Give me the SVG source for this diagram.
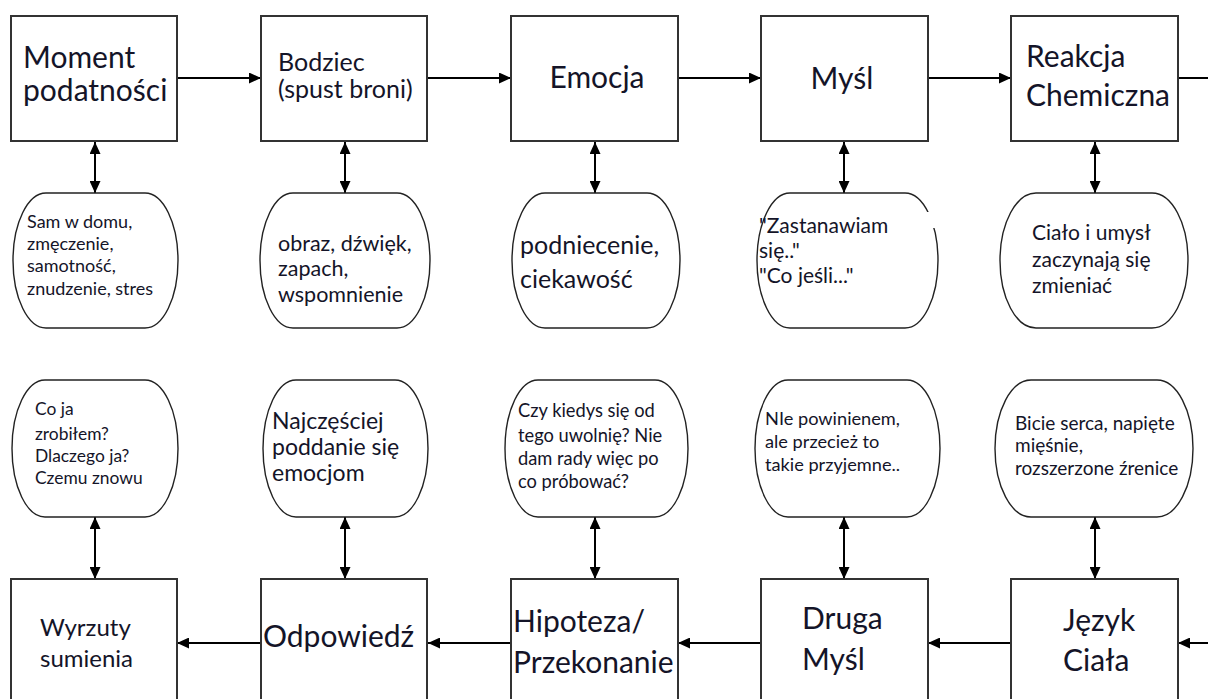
<svg xmlns="http://www.w3.org/2000/svg" width="1208" height="699" viewBox="0 0 1208 699">
<defs>
<marker id="ah" viewBox="0 0 12 11" refX="12" refY="5.5" markerWidth="12" markerHeight="11" markerUnits="userSpaceOnUse" orient="auto-start-reverse">
<path d="M0,0 L12,5.5 L0,11 Z" fill="#000"/>
</marker>
</defs>
<style>
.box{fill:#fff;stroke:#333;stroke-width:2}
.ov{fill:#fff;stroke:#222;stroke-width:1.4}
.c{stroke:#000;stroke-width:2;fill:none}
.a1{marker-end:url(#ah)}
.a2{marker-start:url(#ah);marker-end:url(#ah)}
text{font-family:Lato,"Open Sans","Liberation Sans",sans-serif;fill:#141428}
.t30{font-size:30px}
.t25{font-size:25px}
.t24{font-size:24px}
</style>
<rect width="1208" height="699" fill="#fff"/>
<g id="connectors">
<line class="c a1" x1="177" y1="78" x2="261" y2="78"/>
<line class="c a1" x1="427" y1="78" x2="511" y2="78"/>
<line class="c a1" x1="678" y1="78" x2="761" y2="78"/>
<line class="c a1" x1="928" y1="78" x2="1011" y2="78"/>
<line class="c" x1="1178" y1="78" x2="1208" y2="78"/>
<line class="c a2" x1="95" y1="142" x2="95" y2="193"/>
<line class="c a2" x1="345" y1="142" x2="345" y2="193"/>
<line class="c a2" x1="595" y1="142" x2="595" y2="193"/>
<line class="c a2" x1="844" y1="142" x2="844" y2="193"/>
<line class="c a2" x1="1095" y1="142" x2="1095" y2="193"/>
<line class="c a2" x1="95" y1="517" x2="95" y2="579"/>
<line class="c a2" x1="345" y1="517" x2="345" y2="579"/>
<line class="c a2" x1="595" y1="517" x2="595" y2="579"/>
<line class="c a2" x1="844" y1="517" x2="844" y2="579"/>
<line class="c a2" x1="1095" y1="517" x2="1095" y2="579"/>
<line class="c a1" x1="261" y1="643" x2="177" y2="643"/>
<line class="c a1" x1="511" y1="643" x2="428" y2="643"/>
<line class="c a1" x1="761" y1="643" x2="678" y2="643"/>
<line class="c a1" x1="1011" y1="643" x2="928" y2="643"/>
<line class="c a1" x1="1208" y1="643" x2="1178" y2="643"/>
</g>
<g id="n-moment"><rect class="box" x="11" y="16" width="166" height="125"/>
<text class="t30" x="23" y="68">Moment</text><text class="t30" x="23" y="101">podatności</text></g>
<g id="n-bodziec"><rect class="box" x="261" y="16" width="166" height="125"/>
<text class="t25" x="278" y="71">Bodziec</text><text class="t25" x="278" y="98">(spust broni)</text></g>
<g id="n-emocja"><rect class="box" x="511" y="16" width="167" height="125"/>
<text class="t30" x="597" y="88" text-anchor="middle">Emocja</text></g>
<g id="n-mysl"><rect class="box" x="761" y="16" width="167" height="125"/>
<text class="t30" x="842" y="89" text-anchor="middle">Myśl</text></g>
<g id="n-reakcja"><rect class="box" x="1011" y="16" width="167" height="125"/>
<text class="t30" x="1026" y="67">Reakcja</text><text class="t30" x="1026" y="106">Chemiczna</text></g>

<g id="o-t1"><rect class="ov" x="13" y="193" width="165" height="135" rx="33" ry="67.5"/>
<text font-size="18" x="27" y="228">Sam w domu,</text><text font-size="18" x="27" y="250">zmęczenie,</text><text font-size="18" x="27" y="272">samotność,</text><text font-size="18" x="27" y="295">znudzenie, stres</text></g>
<g id="o-t2"><rect class="ov" x="260" y="193" width="170" height="135" rx="33" ry="67.5"/>
<text font-size="21.5" x="278" y="251">obraz, dźwięk,</text><text font-size="21.5" x="278" y="276">zapach,</text><text font-size="21.5" x="278" y="302">wspomnienie</text></g>
<g id="o-t3"><rect class="ov" x="512" y="193" width="168" height="135" rx="33" ry="67.5"/>
<text font-size="25" x="520" y="254">podniecenie,</text><text font-size="25" x="520" y="288">ciekawość</text></g>
<g id="o-t4"><rect class="ov" x="757" y="193" width="181" height="135" rx="33" ry="67.5"/>
<rect x="923" y="212" width="12" height="16" fill="#fff"/>
<text font-size="21" x="759" y="233">"Zastanawiam</text><text font-size="21" x="759" y="258">się.."</text><text font-size="21" x="759" y="283">"Co jeśli..."</text></g>
<g id="o-t5"><rect class="ov" x="1000" y="193" width="188" height="135" rx="36" ry="67.5"/>
<text font-size="21" x="1032" y="240">Ciało i umysł</text><text font-size="21" x="1032" y="267">zaczynają się</text><text font-size="21" x="1032" y="293">zmieniać</text></g>

<g id="o-b1"><rect class="ov" x="12" y="380" width="166" height="137" rx="33" ry="68.5"/>
<text font-size="17.4" x="35" y="415">Co ja</text><text font-size="17.4" x="35" y="440">zrobiłem?</text><text font-size="17.4" x="35" y="462">Dlaczego ja?</text><text font-size="17.4" x="35" y="484">Czemu znowu</text></g>
<g id="o-b2"><rect class="ov" x="263" y="380" width="165" height="137" rx="33" ry="68.5"/>
<text font-size="23" x="272" y="429">Najczęściej</text><text font-size="23" x="272" y="455">poddanie się</text><text font-size="23" x="272" y="481">emocjom</text></g>
<g id="o-b3"><rect class="ov" x="505" y="380" width="183" height="137" rx="33" ry="68.5"/>
<text font-size="18.3" x="518" y="417">Czy kiedys się od</text><text font-size="18.3" x="518" y="442">tego uwolnię? Nie</text><text font-size="18.3" x="518" y="465">dam rady więc po</text><text font-size="18.3" x="518" y="488">co próbować?</text></g>
<g id="o-b4"><rect class="ov" x="755" y="380" width="185" height="137" rx="33" ry="68.5"/>
<text font-size="18.2" x="765" y="425">NIe powinienem,</text><text font-size="18.2" x="765" y="448">ale przecież to</text><text font-size="18.2" x="765" y="471">takie przyjemne..</text></g>
<g id="o-b5"><rect class="ov" x="995" y="380" width="198" height="137" rx="36" ry="68.5"/>
<text font-size="19" x="1015" y="430">Bicie serca, napięte</text><text font-size="19" x="1015" y="452">mięśnie,</text><text font-size="19" x="1015" y="475">rozszerzone źrenice</text></g>

<g id="n-wyrzuty"><rect class="box" x="11" y="579" width="166" height="130"/>
<text class="t24" x="40" y="636">Wyrzuty</text><text class="t24" x="40" y="667">sumienia</text></g>
<g id="n-odpowiedz"><rect class="box" x="261" y="579" width="166" height="130"/>
<text class="t30" x="263" y="647">Odpowiedź</text></g>
<g id="n-hipoteza"><rect class="box" x="511" y="579" width="167" height="130"/>
<text class="t30" x="513" y="632">Hipoteza/</text><text class="t30" x="513" y="673">Przekonanie</text></g>
<g id="n-druga"><rect class="box" x="761" y="579" width="167" height="130"/>
<text class="t30" x="802" y="629">Druga</text><text class="t30" x="802" y="670">Myśl</text></g>
<g id="n-jezyk"><rect class="box" x="1011" y="579" width="167" height="130"/>
<text class="t30" x="1063" y="631">Język</text><text class="t30" x="1063" y="671">Ciała</text></g>
</svg>
